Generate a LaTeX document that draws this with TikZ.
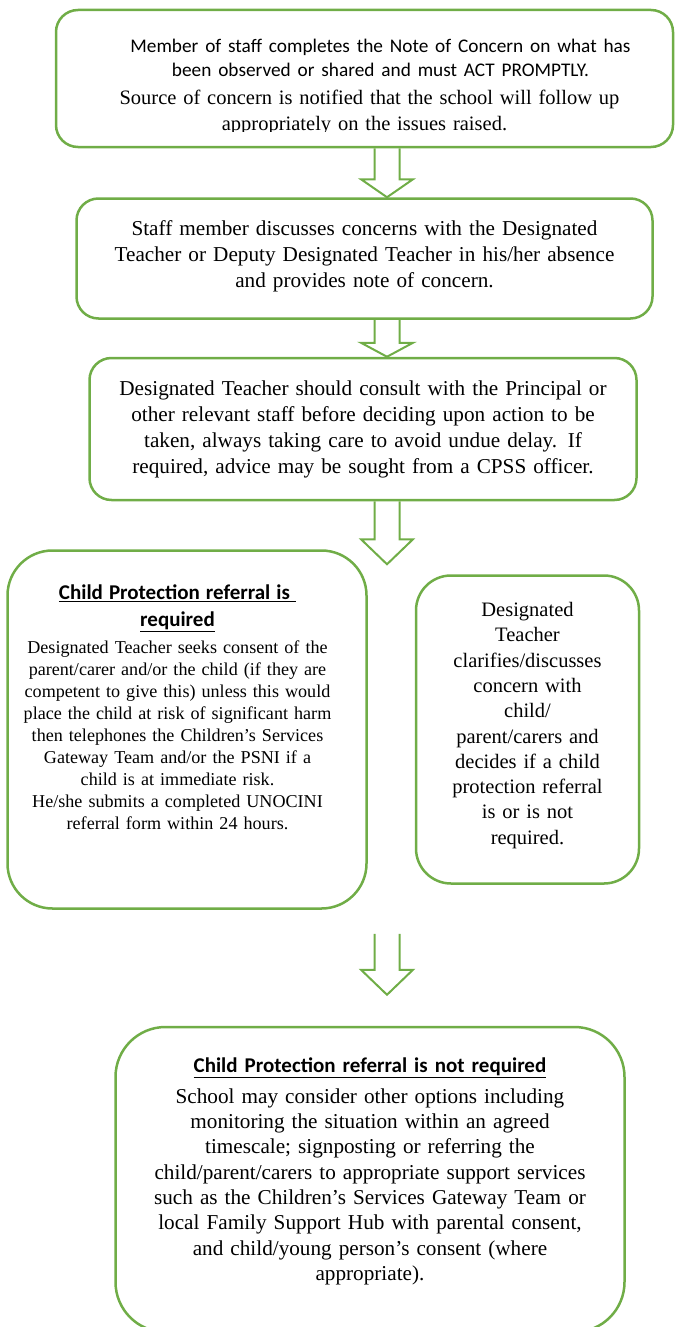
\documentclass[tikz,border=0pt]{standalone}
\usepackage{fontspec}
\setmainfont{Liberation Serif}
\newfontfamily\calibri{Carlito}
\usepackage{xcolor}
\usetikzlibrary{positioning,calc}
\definecolor{boxgreen}{RGB}{112,173,71}

\tikzset{
    flowbox/.style={draw=boxgreen, line width=2.5pt, rounded corners=22pt, align=center, inner sep=0pt},
    arrowline/.style={draw=boxgreen, line width=2pt, line join=miter},
}

% hollow block arrow: start, tip, head length
\newcommand{\blockarrow}[3]{%
    \draw[arrowline] let \p1=(#1), \p2=(#2) in
        (\x1-12.5pt,\y1) -- (\x1-12.5pt,\y2+#3) -- (\x1-26pt,\y2+#3) -- (\x2,\y2)
        -- (\x1+26pt,\y2+#3) -- (\x1+12.5pt,\y2+#3) -- (\x1+12.5pt,\y1);}
% extra room under the text of a box
\newcommand{\padbelow}[1]{\par\nointerlineskip\vbox to #1{}}
% centred lines pushed sideways (left skip, right skip)
\newcommand{\offcentre}[2]{\leftskip=#1 plus 1fill\rightskip=#2 plus 1fill\relax}

\begin{document}
\begin{tikzpicture}[x=1pt, y=1pt]
    \useasboundingbox (0,0) rectangle (675,-1327);
    \coordinate (axis) at (387,0);

    \node[flowbox, minimum width=617pt, minimum height=137pt] (concern) at (364.5,-78.5) {};
    \begin{scope}
        \clip (concern.north west) rectangle ([yshift=17pt]concern.south east);
        \node[align=center, text width=600pt, inner sep=0pt, font=\fontsize{20.5}{25}\selectfont] (concerntext) at ([yshift=-9pt]concern)
            {{\calibri\fontsize{19.3}{24}\selectfont\offcentre{32pt}{0pt}Member of staff completes the Note of Concern on what has\\been observed or shared and must ACT PROMPTLY.\par}\vspace{3pt}
             \offcentre{10pt}{0pt}Source of concern is notified that the school will follow up\\[1pt]
             appropriately on the issues raised.};
    \end{scope}
    \node[flowbox, minimum width=576pt, minimum height=120pt, text width=560pt, font=\fontsize{21.2}{26}\selectfont, below=49pt of concern] (staff)
        {Staff member discusses concerns with the Designated\\Teacher or Deputy Designated Teacher in his/her absence\\and provides note of concern.\padbelow{4pt}};
    \node[flowbox, minimum width=547pt, minimum height=142pt, text width=530pt, font=\fontsize{21.2}{26}\selectfont, below=37pt of staff, xshift=-1.5pt] (consult)
        {Designated Teacher should consult with the Principal or\\other relevant staff before deciding upon action to be\\taken, always taking care to avoid undue delay. If\\required, advice may be sought from a CPSS officer.};
    \node[flowbox, rounded corners=45pt, minimum width=359pt, minimum height=358pt, text width=340pt, font=\fontsize{18.1}{22}\selectfont, below=48pt of consult, xshift=-176pt] (referral)
        {\offcentre{0pt}{19pt}{\calibri\bfseries\fontsize{21}{27}\selectfont\underline{Child Protection referral is\ }\\\underline{required}\par}\vspace{5pt}
         Designated Teacher seeks consent of the\\parent/carer and/or the child (if they are\\competent to give this) unless this would\\place the child at risk of significant harm\\then telephones the Children’s Services\\Gateway Team and/or the PSNI if a\\child is at immediate risk.\\He/she submits a completed UNOCINI\\referral form within 24 hours.\padbelow{45pt}};
    \node[flowbox, rounded corners=35pt, minimum width=223pt, minimum height=308pt, text width=205pt, font=\fontsize{20.5}{25.3}\selectfont, right=47pt of referral] (decides)
        {Designated\\Teacher\\clarifies/discusses\\concern with\\child/\\parent/carers and\\decides if a child\\protection referral\\is or is not\\required.\padbelow{8pt}};
    \node[flowbox, rounded corners=50pt, minimum width=509pt, minimum height=305pt, text width=495pt, font=\fontsize{21.2}{25.3}\selectfont, below=116pt of referral, xshift=183pt] (notreq)
        {{\calibri\bfseries\fontsize{21}{31}\selectfont\underline{Child Protection referral is not required}\par}\vspace{5pt}
         School may consider other options including\\monitoring the situation within an agreed\\timescale; signposting or referring the\\child/parent/carers to appropriate support services\\such as the Children’s Services Gateway Team or\\local Family Support Hub with parental consent,\\and child/young person’s consent (where\\appropriate).\padbelow{16pt}};

    \coordinate (split) at ([yshift=-63pt]consult.south -| axis);
    \coordinate (outtop) at ([yshift=-24pt]referral.south -| axis);
    \coordinate (outtip) at ([yshift=31pt]notreq.north -| axis);

    \blockarrow{concern.south -| axis}{staff.north -| axis}{18pt}
    \blockarrow{staff.south -| axis}{consult.north -| axis}{14pt}
    \blockarrow{consult.south -| axis}{split}{25pt}
    \blockarrow{outtop}{outtip}{25pt}
\end{tikzpicture}
\end{document}
